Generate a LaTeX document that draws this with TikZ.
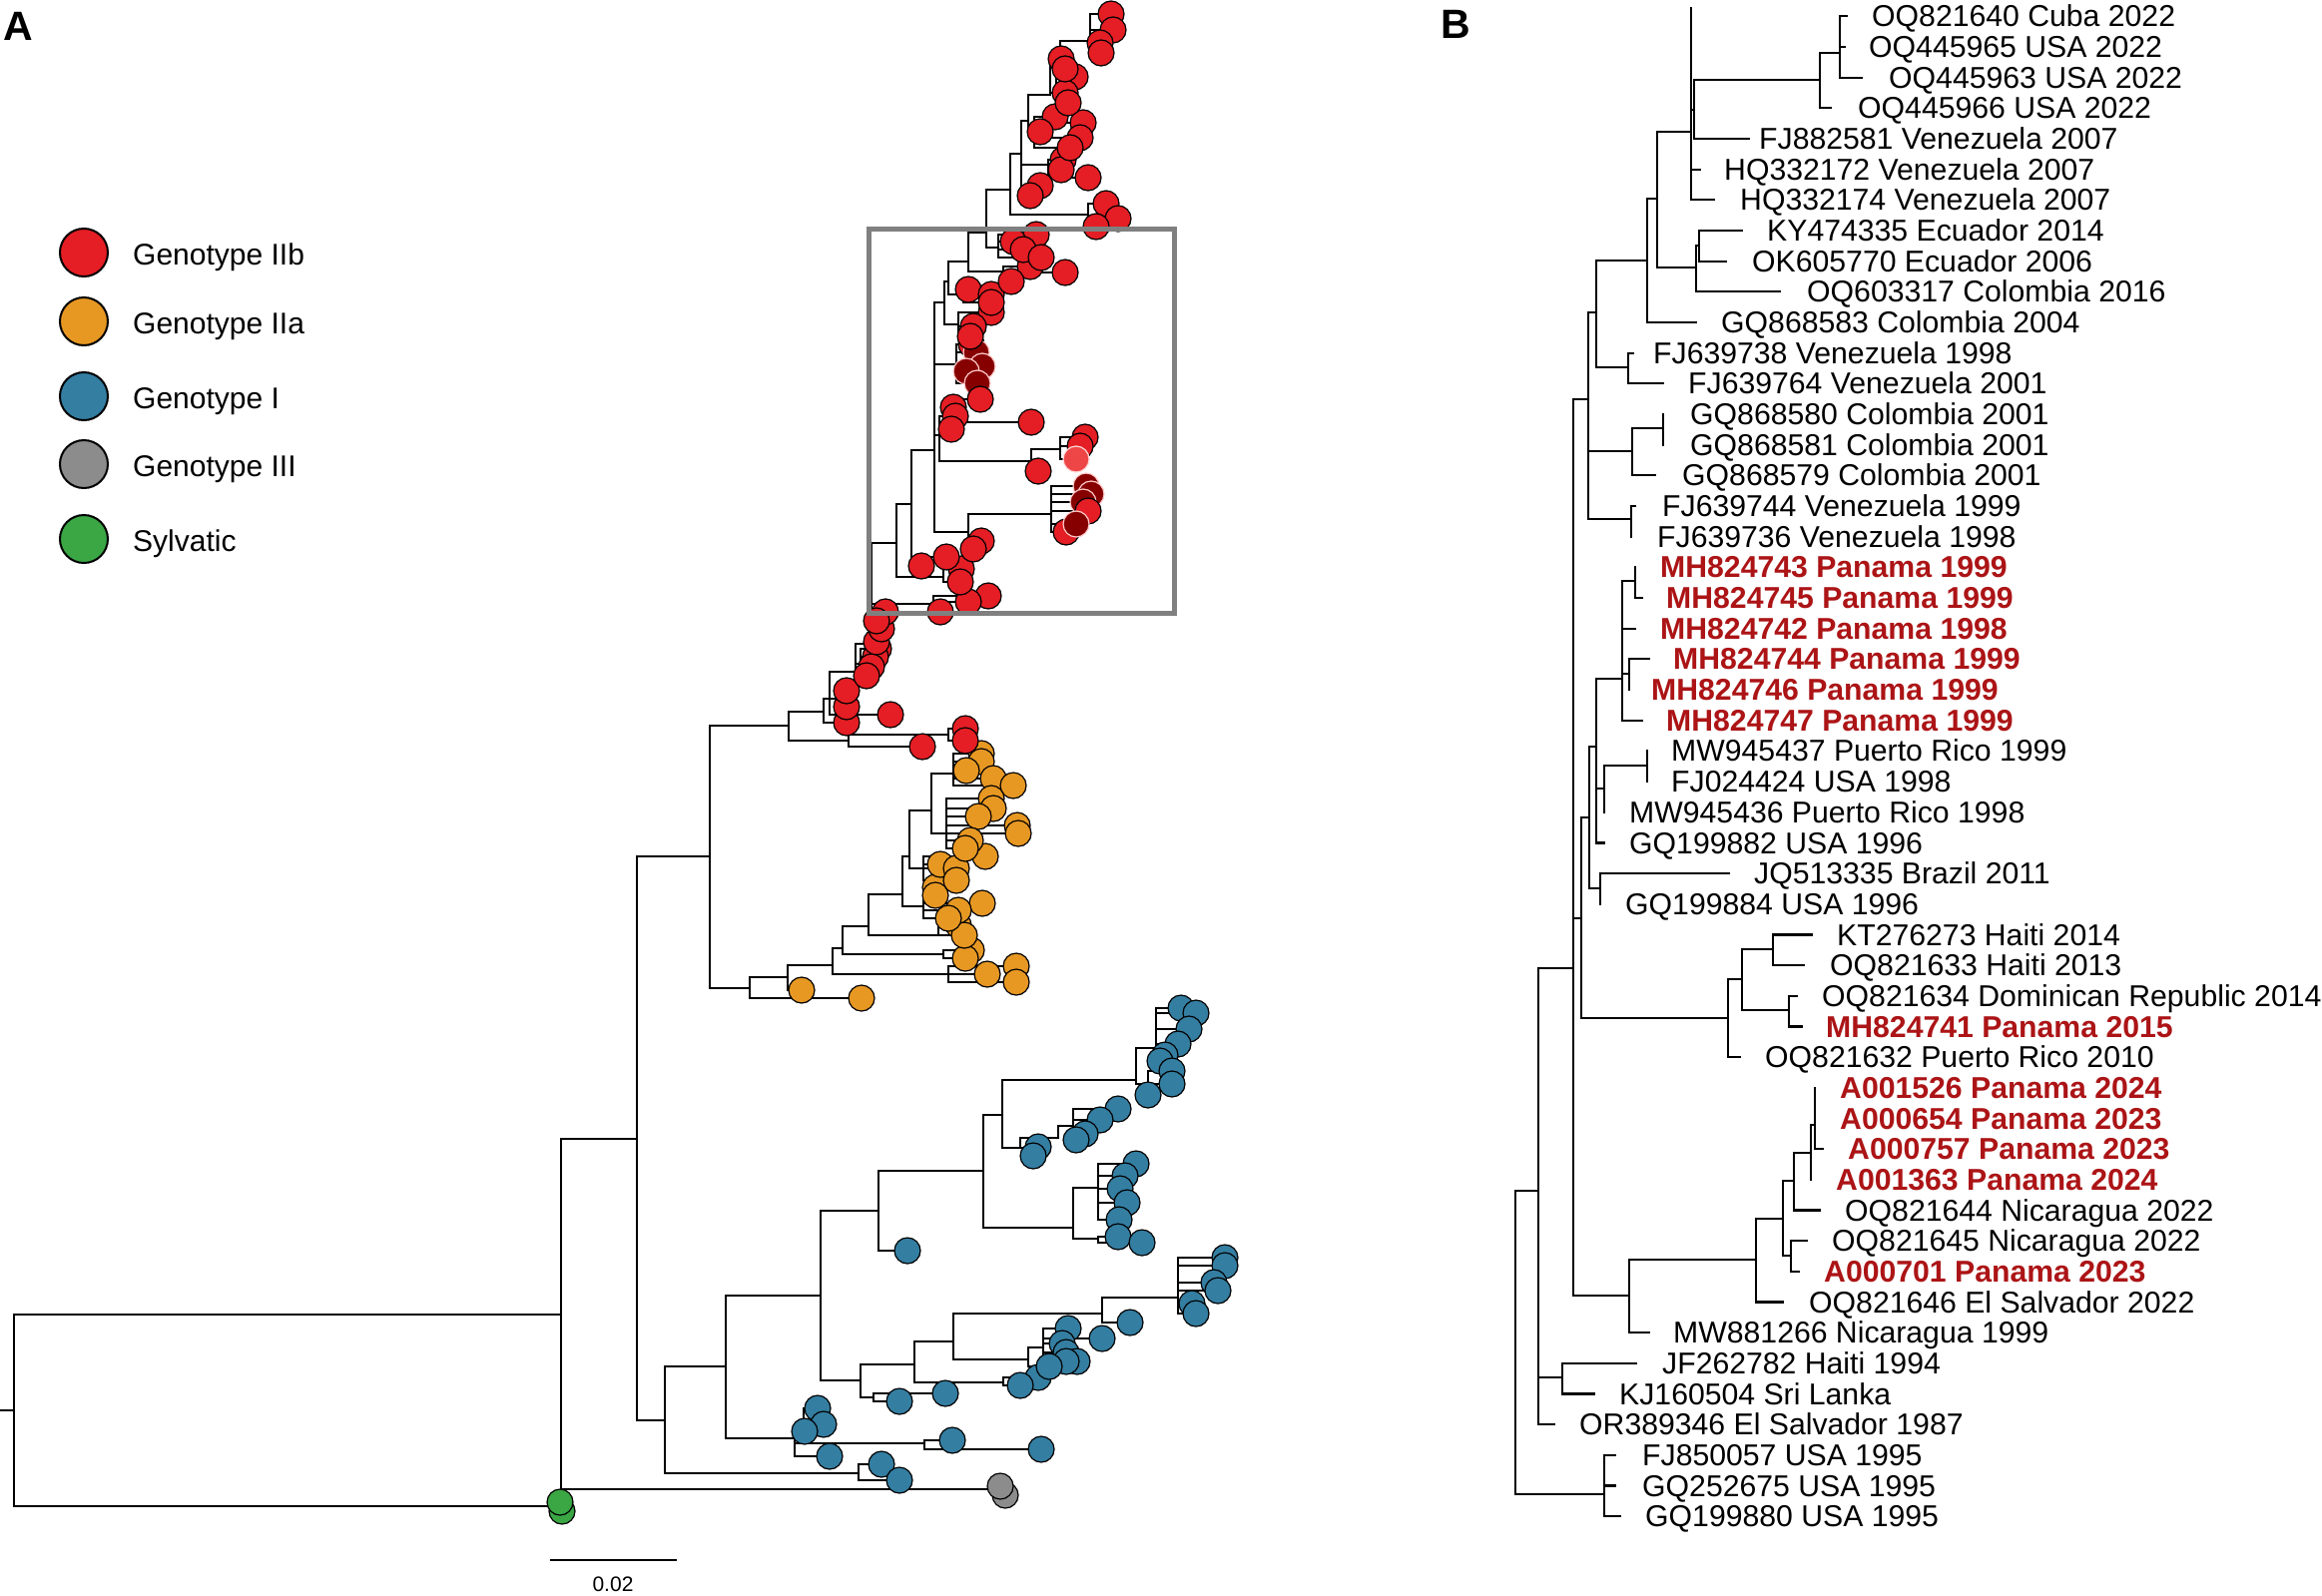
\documentclass[tikz,border=0pt]{standalone}
\usepackage{fontspec}
\setmainfont{Liberation Sans}
\definecolor{cred}{RGB}{228,30,36}
\definecolor{cdark}{RGB}{135,0,0}
\definecolor{clight}{RGB}{238,70,70}
\definecolor{corange}{RGB}{231,152,35}
\definecolor{cblue}{RGB}{52,126,162}
\definecolor{cgrey}{RGB}{140,140,140}
\definecolor{cgreen}{RGB}{58,166,68}
\definecolor{panred}{RGB}{172,20,22}
\definecolor{boxgrey}{RGB}{128,128,128}
\newcommand\labfont{\fontsize{30.2}{32}\selectfont}
\newcommand\legfont{\fontsize{30}{34}\selectfont}
\newif\ifcircpass
% panel A: internal node
\newcommand\trN[3]{\ifcircpass\else\coordinate (#1) at (#3); \draw[br] (#2) |- (#1);\fi}
% panel A: comb of tips with circles (lines in first pass, circles in second)
\newcommand\trC[5]{%
  \ifcircpass
    \foreach \x/\y [count=\k] in {#5}{%
      \node[tipdot,#4] (#1c\k) at (#1-\k) {};
    }%
  \else
    \coordinate (#1) at (#3);
    \draw[br] (#2) |- (#1);
    \foreach \x/\y [count=\k] in {#5}{%
      \coordinate (#1-\k) at (\x,\y);
      \draw[br] (#1) |- (#1-\k);
    }%
  \fi
}
% panel B: internal node
\newcommand\trB[3]{\coordinate (#1) at (#3); \draw[brb] (#2) |- (#1);}
% panel B: leaf with label
\newcommand\trL[7]{%
  \coordinate (#1) at (#3,{16.3+30.67*(#4-1)});
  \draw[brb] (#2) |- (#1);
  \node[#7] (#1l) at (#5,{26.9+30.67*(#4-1)}) {#6};
}
\newcommand\panelA{%
\trN{N1}{RA}{562,1317}
\trC{SY}{RA}{560,1509}{cS}{563/1514,561/1505}
\trC{GT}{N1}{1000,1492}{cG}{1007/1498,1002/1489}
\trN{N2}{N1}{638,1141}
\trN{N3}{N2}{711,858}
\trN{N4}{N2}{666,1423}
% genotype IIa
\trN{N6}{N3}{751,990}
\trN{N7}{N6}{789,979}
\trC{Oa}{N6}{851,1000}{cO}{863/1000}
\trN{N8}{N7}{834,967}
\trC{Ob}{N7}{795,992}{cO}{803/992}
\trN{N9}{N8}{844,950}
\trC{Oc}{N8}{950,976}{cO}{1018/968,989/976,1018/984}
\trN{N10}{N9}{870,928}
\trC{Od}{N9}{945,956}{cO}{973/952,967/960}
\trN{N11}{N10}{904,896}
\trC{Oe}{N10}{940,937}{cO}{960/927,966/937}
\trN{N12o}{N11}{911,858}
\trC{Of}{N11}{925,908}{cO}{937/889,937/897,984/905,960/912,950/920}
\trN{N13o}{N12o}{933,812}
\trC{Og}{N12o}{925,870}{cO}{987/858,942/866,958/870,958/882}
\trC{Oh}{N13o}{955,775}{cO}{983/755,983/763,968/772,995/780,1015/787}
\trC{Oi}{N13o}{948,835}{cO}{993/800,995/810,980/818,1019/827,1020/835,972/842,967/850}
% genotype IIb
\trN{N5}{N3}{790,727}
\trN{N25}{N5}{825,713}
\trN{N24}{N5}{850,742}
\trC{Rx}{N24}{950,736}{cR}{967/730,967/742}
\trC{Ry}{N24}{900,748}{cR}{924/748}
\trN{N26}{N25}{831,700}
\trC{Rz}{N25}{838,724}{cR}{848/724}
\trN{N27}{N26}{857,673}
\trC{Ra1}{N26}{840,700}{cR}{848/708,848/692}
\trC{Ra2}{N26}{880,716}{cR}{892/716}
\trN{N28}{N27}{873,645}
\trC{Ra3}{N27}{862,665}{cR}{880/650,877/658,873/668,868/677}
\trN{N29}{N28}{898,544}
\trC{Ra4}{N28}{876,630}{cR}{878/643,883/630,887/613,878/622}
\trC{Ra5}{N28}{935,605}{cR}{990/597,970/603,942/613}
\trN{N30}{N29}{913,505}
\trC{Ra6}{N29}{945,578}{cR}{963/570,962/583}
\trN{N31}{N30}{936,451}
\trC{Ra7}{N30}{918,560}{cR}{948/558,923/567}
\trN{N32}{N31}{946,303}
\trC{Rg}{N31}{958,365}{cR}{973/345}
\trC{Rg2}{N31}{958,365}{cD}{978/353,984/367,968/372,979/384}
\trN{N33}{N31}{941,436}
\trC{Rq}{N33}{950,417}{cR}{982/400,955/408,957/417,953/430}
\trC{Rq2}{N33}{1020,423}{cR}{1033/423}
\trN{N38}{N33}{1033,462}
\trC{Rq3}{N38}{1036,472}{cR}{1040/472}
\trC{Rq4}{N38}{1062,450}{cR}{1087/438,1082/447}
\trC{Rq5}{N38}{1062,450}{cL}{1078/460}
\trN{N37}{N31}{970,533}
\trC{Rs}{N37}{972,546}{cR}{983/542,975/550}
\trC{Rs2}{N37}{1053,515}{cD}{1088/487,1093/495,1085/503}
\trC{Rs3}{N37}{1053,515}{cR}{1090/512,1068/533}
\trC{Rs4}{N37}{1053,515}{cD}{1078/525}
\trN{N34}{N32}{950,282}
\trC{Rd}{N32}{960,325}{cR}{993/313,975/327,972/337}
\trN{N36}{N34}{970,262}
\trC{Rh}{N34}{965,295}{cR}{970/290,993/295,993/303}
\trN{N35}{N36}{988,233}
\trC{Ri}{N36}{1005,272}{cR}{1067/273,1032/267,1013/282}
\trN{NX}{N35}{1012,190}
\trC{Rj}{N35}{1000,248}{cR}{1038/235,1015/242,1025/250,1043/258}
\trN{NY}{NX}{1023,154}
\trC{Rk}{NX}{1090,215}{cR}{1108/204,1120/219,1098/227}
\trN{NZ}{NY}{1030,121}
\trC{Rl}{NY}{1028,190}{cR}{1042/186,1032/196}
\trC{Rm}{NY}{1050,165}{cR}{1065/160,1063/170,1090/178}
\trN{NW}{NZ}{1052,95}
\trC{Rn}{NZ}{1036,132}{cR}{1057/117,1085/123,1042/132,1082/138,1072/148}
\trN{NV}{NW}{1062,59}
\trC{Ro}{NW}{1058,93}{cR}{1077/77,1067/93,1070/103}
\trC{Rp}{NV}{1092,41}{cR}{1113/14,1115/30,1102/43,1103/53}
\trC{Rr}{NV}{1062,64}{cR}{1063/59,1067/69}
% genotype I
\trN{N12}{N4}{727,1369}
\trC{Bb1}{N4}{860,1476}{cB}{883/1467,901/1483}
\trN{N14}{N12}{822,1298}
\trN{N15}{N12}{796,1441}
\trC{Bb2}{N15}{805,1434}{cB}{819/1411,825/1427,806/1434}
\trC{Bb3}{N15}{926,1446}{cB}{954/1443,1043/1452}
\trC{Bb4}{N15}{815,1459}{cB}{831/1459}
\trN{N16}{N14}{880,1213}
\trN{N17}{N14}{862,1383}
\trN{N18}{N16}{985,1173}
\trC{Bb5}{N16}{895,1253}{cB}{909/1253}
\trN{N19}{N18}{1004,1117}
\trN{N20}{N18}{1075,1230}
\trN{N19a}{N19}{1138,1082}
\trN{N19b}{N19}{1022,1150}
\trC{Bb6}{N19b}{1035,1150}{cB}{1040/1149,1035/1158}
\trN{N19c}{N19b}{1060,1140}
\trC{Bb6b}{N19c}{1075,1128}{cB}{1120/1111,1102/1122,1087/1136,1078/1142}
\trC{Bb7}{N19a}{1158,1050}{cB}{1183/1010,1198/1015,1191/1031,1180/1046,1167/1057,1162/1063}
\trC{Bb8}{N19a}{1150,1086}{cB}{1174/1073,1174/1086,1150/1097}
\trC{Bb9}{N20}{1100,1190}{cB}{1138/1166,1127/1178,1122/1191,1129/1205,1121/1222}
\trC{Bb10}{N20}{1100,1241}{cB}{1120/1239,1144/1245}
\trN{N21}{N17}{916,1367}
\trC{Bb11}{N17}{875,1400}{cB}{947/1396,901/1404}
\trN{N22}{N21}{955,1344}
\trC{Bb12}{N21}{1005,1385}{cB}{1040/1380,1022/1388}
\trN{N23}{N22}{1104,1316}
\trN{N22b}{N22}{1030,1362}
\trC{Bb13}{N22b}{1045,1350}{cB}{1070/1331,1104/1341,1064/1346,1068/1355,1079/1364,1068/1364}
\trC{Bb13b}{N22b}{1040,1369}{cB}{1051/1369}
\trC{Bb14}{N23}{1180,1300}{cB}{1227/1260,1227/1268,1216/1285,1220/1293,1194/1306,1198/1316}
\trC{Bb15}{N23}{1115,1325}{cB}{1132/1325}
}
\begin{document}
\begin{tikzpicture}[x=1pt,y=-1pt,
  br/.style={line width=2pt,line cap=rect},
  brb/.style={line width=2.2pt,line cap=rect},
  tipdot/.style={circle,draw=black,line width=1.2pt,minimum size=26pt,inner sep=0pt},
  cR/.style={fill=cred},
  cD/.style={fill=cdark,draw=white!80!red},
  cL/.style={fill=clight,draw=white!85!red},
  cO/.style={fill=corange},
  cB/.style={fill=cblue},
  cG/.style={fill=cgrey},
  cS/.style={fill=cgreen},
  lab/.style={anchor=base west,inner sep=0pt,font=\labfont},
  plab/.style={anchor=base west,inner sep=0pt,text=panred,font={\labfont\bfseries}},
  legdot/.style={circle,draw=black,line width=2pt,minimum size=48pt,inner sep=0pt},
  legt/.style={anchor=base west,inner sep=0pt,font=\legfont},
  panel/.style={anchor=north west,inner sep=0pt,font={\fontsize{41}{45}\selectfont\bfseries}}]
\fill[white] (0,0) rectangle (2326,1598);
\useasboundingbox (0,0) rectangle (2326,1598);

% ---------------- panel labels
\node[panel] (pA) at (3,12) {A};
\node[panel] (pB) at (1443,10) {B};

% ---------------- legend
\node[legdot,fill=cred] (lg1) at (84,253) {};
\node[legt] (lt1) at (133,265) {Genotype IIb};
\node[legdot,fill=corange] (lg2) at (84,322) {};
\node[legt] (lt2) at (133,334) {Genotype IIa};
\node[legdot,fill=cblue] (lg3) at (84,397) {};
\node[legt] (lt3) at (133,409) {Genotype I};
\node[legdot,fill=cgrey] (lg4) at (84,465) {};
\node[legt] (lt4) at (133,477) {Genotype III};
\node[legdot,fill=cgreen] (lg5) at (84,540) {};
\node[legt] (lt5) at (133,552) {Sylvatic};

% ---------------- panel A tree: lines, then circles
\coordinate (RAs) at (0,1413);
\coordinate (RA) at (14,1413);
\draw[br] (RAs) -- (RA);
\circpassfalse
\panelA
\circpasstrue
\panelA

% zoom box
\draw[boxgrey,line width=5pt] (870,229) rectangle (1176,614);

% scale bar
\coordinate (sb1) at (551,1563);
\coordinate (sb2) at (678,1563);
\draw[line width=2pt] (sb1) -- (sb2);
\node[inner sep=0pt,font={\fontsize{21}{24}\selectfont}] (sbl) at (614,1587) {0.02};

% ---------------- panel B tree
\coordinate (bR) at (1518,1345);
\trB{bJ}{bR}{1541,1193}
\trB{bU}{bR}{1607,1497}
\trB{bI}{bJ}{1576,970}
\trB{bJK}{bJ}{1565,1380}
\trB{bG}{bI}{1591,400}
\trB{bK1}{bI}{1584,920}
\trB{bO}{bI}{1632,1298}
\trB{bE}{bG}{1599,313}
\trB{bH}{bG}{1635,452}
\trB{bFJ}{bG}{1634,520}
\trB{bD}{bE}{1650,261}
\trB{bF}{bE}{1631,368}
\trB{bB}{bD}{1660,199}
\trB{bA}{bB}{1694,132}
\trB{bC}{bB}{1699,268}
\trB{bA2}{bA}{1697,110}
\trB{bCu}{bA2}{1823,80}
\trB{bCu2}{bCu}{1843,53}
\trB{bC2}{bC}{1702,246}
\trB{bH2}{bH}{1666,429}
\trB{bK2}{bK1}{1592,819}
\trB{bHA}{bK1}{1731,1020}
\trB{bK3}{bK2}{1599,748}
\trB{bK6}{bK2}{1603,890}
\trB{bP1}{bK3}{1625,680}
\trB{bK4}{bK3}{1607,790}
\trB{bP2}{bP1}{1638,582}
\trB{bP3}{bP1}{1632,675}
\trB{bK5}{bK4}{1650,767}
\trB{bL}{bHA}{1745,981}
\trB{bM}{bL}{1776,951}
\trB{bN}{bL}{1792,1012}
\trB{bP}{bO}{1759,1262}
\trB{bQ}{bP}{1786,1221}
\trB{bRn}{bQ}{1797,1183}
\trB{bS}{bQ}{1794,1258}
\trB{bT}{bRn}{1814,1155}
\trB{bT2}{bT}{1818,1127}
\coordinate (bAtop) at (1694,8);
\draw[brb] (bA) -- (bAtop);

\trL{b1}{bCu2}{1850}{1}{1875}{OQ821640 Cuba 2022}{lab}
\trL{b2}{bCu2}{1848}{2}{1872}{OQ445965 USA 2022}{lab}
\trL{b3}{bCu2}{1865}{3}{1892}{OQ445963 USA 2022}{lab}
\trL{b4}{bCu}{1834}{4}{1861}{OQ445966 USA 2022}{lab}
\trL{b5}{bA2}{1752}{5}{1762}{FJ882581 Venezuela 2007}{lab}
\trL{b6}{bA}{1703}{6}{1727}{HQ332172 Venezuela 2007}{lab}
\trL{b7}{bA}{1717}{7}{1743}{HQ332174 Venezuela 2007}{lab}
\trL{b8}{bC2}{1745}{8}{1770}{KY474335 Ecuador 2014}{lab}
\trL{b9}{bC2}{1729}{9}{1755}{OK605770 Ecuador 2006}{lab}
\trL{b10}{bC}{1783}{10}{1810}{OQ603317 Colombia 2016}{lab}
\trL{b11}{bD}{1699}{11}{1724}{GQ868583 Colombia 2004}{lab}
\trL{b12}{bF}{1636}{12}{1656}{FJ639738 Venezuela 1998}{lab}
\trL{b13}{bF}{1666}{13}{1691}{FJ639764 Venezuela 2001}{lab}
\trL{b14}{bH2}{1666}{14}{1693}{GQ868580 Colombia 2001}{lab}
\trL{b15}{bH2}{1666}{15}{1693}{GQ868581 Colombia 2001}{lab}
\trL{b16}{bH}{1658}{16}{1685}{GQ868579 Colombia 2001}{lab}
\trL{b17}{bFJ}{1638}{17}{1665}{FJ639744 Venezuela 1999}{lab}
\trL{b18}{bFJ}{1634}{18}{1660}{FJ639736 Venezuela 1998}{lab}
\trL{b19}{bP2}{1638}{19}{1663}{MH824743 Panama 1999}{plab}
\trL{b20}{bP2}{1645}{20}{1669}{MH824745 Panama 1999}{plab}
\trL{b21}{bP1}{1638}{21}{1663}{MH824742 Panama 1998}{plab}
\trL{b22}{bP3}{1652}{22}{1676}{MH824744 Panama 1999}{plab}
\trL{b23}{bP3}{1632}{23}{1654}{MH824746 Panama 1999}{plab}
\trL{b24}{bP1}{1645}{24}{1669}{MH824747 Panama 1999}{plab}
\trL{b25}{bK5}{1650}{25}{1674}{MW945437 Puerto Rico 1999}{lab}
\trL{b26}{bK5}{1650}{26}{1674}{FJ024424 USA 1998}{lab}
\trL{b27}{bK4}{1607}{27}{1632}{MW945436 Puerto Rico 1998}{lab}
\trL{b28}{bK3}{1607}{28}{1632}{GQ199882 USA 1996}{lab}
\trL{b29}{bK6}{1732}{29}{1757}{JQ513335 Brazil 2011}{lab}
\trL{b30}{bK6}{1603}{30}{1628}{GQ199884 USA 1996}{lab}
\trL{b31}{bM}{1815}{31}{1840}{KT276273 Haiti 2014}{lab}
\trL{b32}{bM}{1807}{32}{1833}{OQ821633 Haiti 2013}{lab}
\trL{b33}{bN}{1800}{33}{1825}{OQ821634 Dominican Republic 2014}{lab}
\trL{b34}{bN}{1805}{34}{1829}{MH824741 Panama 2015}{plab}
\trL{b35}{bHA}{1743}{35}{1768}{OQ821632 Puerto Rico 2010}{lab}
\trL{b36}{bT2}{1818}{36}{1843}{A001526 Panama 2024}{plab}
\trL{b37}{bT2}{1818}{37}{1843}{A000654 Panama 2023}{plab}
\trL{b38}{bT2}{1826}{38}{1851}{A000757 Panama 2023}{plab}
\trL{b39}{bT}{1814}{39}{1839}{A001363 Panama 2024}{plab}
\trL{b40}{bRn}{1823}{40}{1848}{OQ821644 Nicaragua 2022}{lab}
\trL{b41}{bS}{1810}{41}{1835}{OQ821645 Nicaragua 2022}{lab}
\trL{b42}{bS}{1802}{42}{1827}{A000701 Panama 2023}{plab}
\trL{b43}{bP}{1786}{43}{1812}{OQ821646 El Salvador 2022}{lab}
\trL{b44}{bO}{1652}{44}{1676}{MW881266 Nicaragua 1999}{lab}
\trL{b45}{bJK}{1639}{45}{1665}{JF262782 Haiti 1994}{lab}
\trL{b46}{bJK}{1597}{46}{1622}{KJ160504 Sri Lanka}{lab}
\trL{b47}{bJ}{1557}{47}{1582}{OR389346 El Salvador 1987}{lab}
\trL{b48}{bU}{1618}{48}{1645}{FJ850057 USA 1995}{lab}
\trL{b49}{bU}{1618}{49}{1645}{GQ252675 USA 1995}{lab}
\trL{b50}{bU}{1623}{50}{1648}{GQ199880 USA 1995}{lab}
\end{tikzpicture}
\end{document}
